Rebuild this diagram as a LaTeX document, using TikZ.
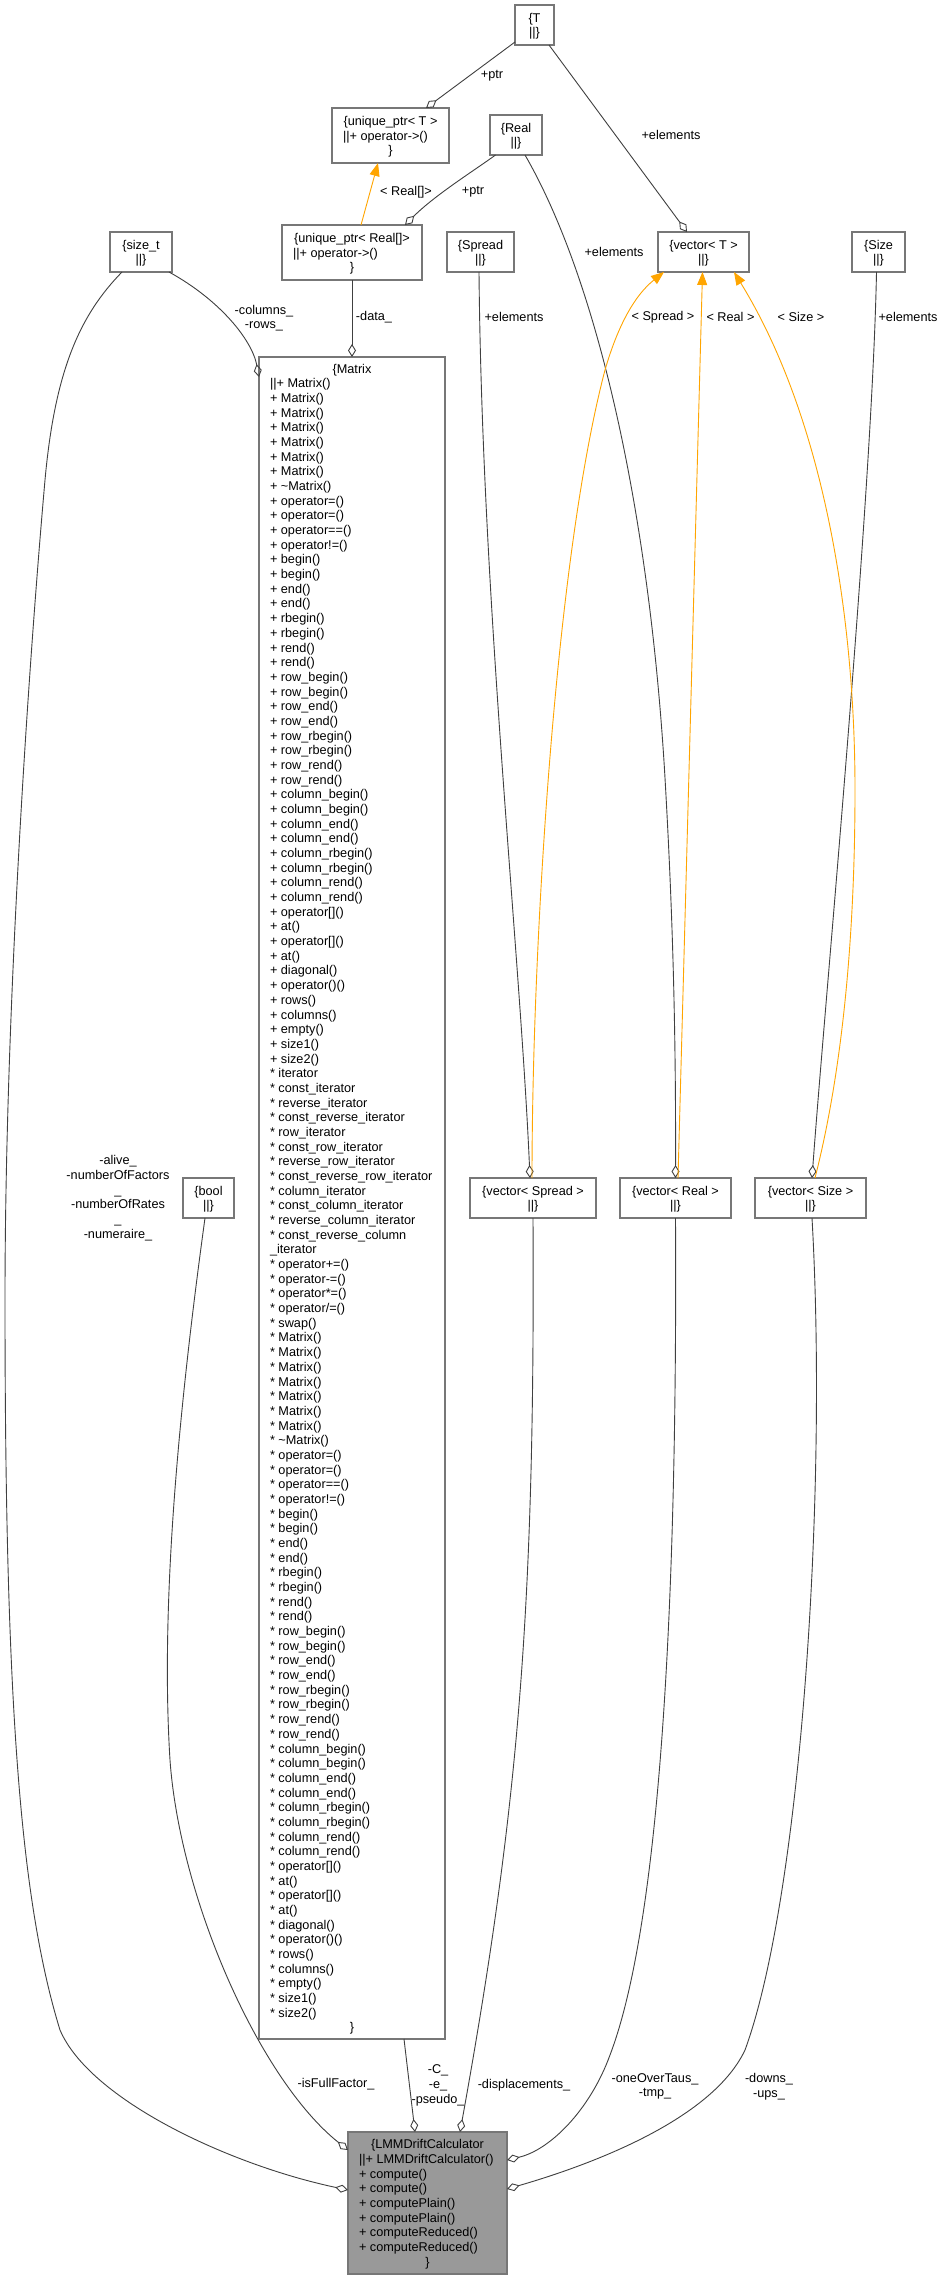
\documentclass[tikz,border=0pt]{standalone}
\usepackage{fontspec}
\setmainfont{Liberation Sans}
\usetikzlibrary{arrows.meta}
\definecolor{edgegray}{HTML}{404040}
\definecolor{boxgray}{HTML}{777777}
\definecolor{lmmfill}{HTML}{999999}
\definecolor{tmplorange}{HTML}{FFA500}
\newcommand\mystrut{\vrule height 11.84pt depth 2.84pt width 0pt}
\newcommand\RowC[1]{\hbox to\hsize{\hss\mystrut#1\hss}}
\newcommand\RowL[1]{\hbox to\hsize{\hskip11pt\mystrut#1\hss}}
\newcommand\umlnode[7][white]{\node[umlbox,fill=#1,minimum width=#5pt,minimum height=#6pt] (#2) at (#3,#4) {\vbox{\hsize=#5pt #7}};}
\newcommand\MBlock[2]{%
\RowL{#1 Matrix()}\RowL{#2 Matrix()}\RowL{#2 Matrix()}\RowL{#2 Matrix()}\RowL{#2 Matrix()}\RowL{#2 Matrix()}\RowL{#2 Matrix()}%
\RowL{#2 \textasciitilde Matrix()}\RowL{#2 operator=()}\RowL{#2 operator=()}\RowL{#2 operator==()}\RowL{#2 operator!=()}%
\RowL{#2 begin()}\RowL{#2 begin()}\RowL{#2 end()}\RowL{#2 end()}\RowL{#2 rbegin()}\RowL{#2 rbegin()}\RowL{#2 rend()}\RowL{#2 rend()}%
\RowL{#2 row\_begin()}\RowL{#2 row\_begin()}\RowL{#2 row\_end()}\RowL{#2 row\_end()}\RowL{#2 row\_rbegin()}\RowL{#2 row\_rbegin()}\RowL{#2 row\_rend()}\RowL{#2 row\_rend()}%
\RowL{#2 column\_begin()}\RowL{#2 column\_begin()}\RowL{#2 column\_end()}\RowL{#2 column\_end()}\RowL{#2 column\_rbegin()}\RowL{#2 column\_rbegin()}\RowL{#2 column\_rend()}\RowL{#2 column\_rend()}%
\RowL{#2 operator[]()}\RowL{#2 at()}\RowL{#2 operator[]()}\RowL{#2 at()}\RowL{#2 diagonal()}\RowL{#2 operator()()}\RowL{#2 rows()}\RowL{#2 columns()}\RowL{#2 empty()}\RowL{#2 size1()}\RowL{#2 size2()}}

\begin{document}
\begin{tikzpicture}[x=1pt,y=-1pt,
  every node/.style={font=\fontsize{12.7pt}{14.68pt}\selectfont},
  umlbox/.style={draw=boxgray, line width=1.1pt, inner sep=0pt, outer sep=0pt, rectangle},
  lbl/.style={inner sep=0pt, align=center},
  comp/.style={draw=edgegray, line width=0.9pt, -{Diamond[open,length=13pt,width=8pt]}},
  inst/.style={draw=tmplorange, line width=0.9pt, -{Triangle[length=13pt,width=10pt]}}]
\fill[white] (0,0) rectangle (944,2280);
\useasboundingbox (0,0) rectangle (944,2280);

% ---- boxes ----
\umlnode{T}{534.5}{25}{39}{40}{\RowC{\{T}\RowC{||\}}}
\umlnode{uptrT}{390.5}{135.5}{117}{55}{\RowC{\{unique\_ptr< T >}\RowL{||+ operator->()}\RowC{\}}}
\umlnode{Real}{516}{135}{52}{40}{\RowC{\{Real}\RowC{||\}}}
\umlnode{uptrR}{352}{252.5}{140}{55}{\RowC{\{unique\_ptr< Real[]>}\RowL{||+ operator->()}\RowC{\}}}
\umlnode{Spread}{480.5}{252}{67}{40}{\RowC{\{Spread}\RowC{||\}}}
\umlnode{vecT}{703.5}{252}{91}{40}{\RowC{\{vector< T >}\RowC{||\}}}
\umlnode{Size}{878.5}{252}{53}{40}{\RowC{\{Size}\RowC{||\}}}
\umlnode{sizet}{141}{252}{62}{40}{\RowC{\{size\_t}\RowC{||\}}}
\umlnode{Matrix}{352}{1198}{186}{1682}{\RowC{\{Matrix}\MBlock{||+}{+}%
\RowL{* iterator}\RowL{* const\_iterator}\RowL{* reverse\_iterator}\RowL{* const\_reverse\_iterator}%
\RowL{* row\_iterator}\RowL{* const\_row\_iterator}\RowL{* reverse\_row\_iterator}\RowL{* const\_reverse\_row\_iterator}%
\RowL{* column\_iterator}\RowL{* const\_column\_iterator}\RowL{* reverse\_column\_iterator}\RowL{* const\_reverse\_column}\RowL{\_iterator}%
\RowL{* operator+=()}\RowL{* operator-=()}\RowL{* operator*=()}\RowL{* operator/=()}\RowL{* swap()}%
\MBlock{*}{*}\RowC{\}}}
\umlnode{bool}{208.5}{1198}{51}{40}{\RowC{\{bool}\RowC{||\}}}
\umlnode{vecSpread}{533}{1198}{126}{40}{\RowC{\{vector< Spread >}\RowC{||\}}}
\umlnode{vecReal}{675.5}{1198}{111}{40}{\RowC{\{vector< Real >}\RowC{||\}}}
\umlnode{vecSize}{810.5}{1198}{111}{40}{\RowC{\{vector< Size >}\RowC{||\}}}
\umlnode[lmmfill]{LMM}{427.5}{2203}{159}{142}{\RowC{\{LMMDriftCalculator}\RowL{||+ LMMDriftCalculator()}\RowL{+ compute()}\RowL{+ compute()}\RowL{+ computePlain()}\RowL{+ computePlain()}\RowL{+ computeReduced()}\RowL{+ computeReduced()}\RowC{\}}}

% ---- connectors ----
\draw[comp] ([yshift=3pt]T.south west) -- ([xshift=35.5pt]uptrT.north);
\draw[comp] ([xshift=14.5pt]T.south) -- ([xshift=-16.5pt]vecT.north);
\draw[comp] ([xshift=5.5pt]Real.south west) .. controls (475,170) and (435,195) .. ([xshift=53pt]uptrR.north);
\draw[inst] ([xshift=9pt]uptrR.north) -- ([xshift=-12.5pt]uptrT.south);
\draw[comp] (uptrR.south) -- (Matrix.north);
\draw[comp] ([xshift=-3pt]sizet.south east) .. controls (220,300) and (252,340) .. ([yshift=-20pt]Matrix.north west);
\draw[comp] ([xshift=12pt]sizet.south west) .. controls (80,315) and (55,370) .. (45,480)
  .. controls (30,650) and (5,1000) .. (5,1300)
  .. controls (5,1700) and (20,1900) .. (60,2030)
  .. controls (90,2100) and (230,2165) .. ([yshift=13pt]LMM.west);
\draw[comp] ([xshift=-3.5pt]bool.south) .. controls (180,1400) and (160,1600) .. (170,1760)
  .. controls (180,1900) and (260,2080) .. ([yshift=53pt]LMM.west);
\draw[comp] ([xshift=52pt]Matrix.south) -- ([xshift=67pt]LMM.north west);
\draw[comp] ([xshift=-1.5pt]Spread.south) .. controls (482,600) and (520,950) .. ([xshift=-3pt]vecSpread.north);
\draw[comp] ([xshift=9pt]Real.south) .. controls (600,285) and (650,520) .. (665,778)
  .. controls (672,900) and (676,1020) .. (vecReal.north);
\draw[comp] ([xshift=-2pt]Size.south) .. controls (872,500) and (825,1000) .. ([xshift=1.5pt]vecSize.north);
\draw[inst] ([xshift=-1pt]vecSpread.north) .. controls (532,950) and (555,560) .. (605,370)
  .. controls (618,325) and (635,295) .. ([xshift=6pt]vecT.south west);
\draw[inst] ([xshift=2.5pt]vecReal.north) -- ([xshift=-1pt]vecT.south);
\draw[inst] ([xshift=4.5pt]vecSize.north) .. controls (840,1080) and (855,950) .. (855,790)
  .. controls (855,620) and (825,420) .. ([xshift=-15pt]vecT.south east);
\draw[comp] (vecSpread.south) .. controls (535,1600) and (520,1800) .. ([xshift=112pt]LMM.north west);
\draw[comp] (vecReal.south) .. controls (678,1700) and (650,1950) .. (610,2055)
  .. controls (590,2110) and (550,2150) .. ([yshift=43pt]LMM.east);
\draw[comp] ([xshift=1.5pt]vecSize.south) .. controls (828,1500) and (800,1900) .. (745,2050)
  .. controls (712,2120) and (590,2165) .. ([yshift=14pt]LMM.east);

% ---- labels ----
\node[lbl] (lPtrT) at (492,76) {+ptr};
\node[lbl] (lElT) at (671,135) {+elements};
\node[lbl] (lRealArr) at (406,192) {< Real[]>};
\node[lbl] (lPtrR) at (473,192) {+ptr};
\node[lbl] (lElReal) at (614,252) {+elements};
\node[lbl] (lData) at (374,317) {-data\_};
\node[lbl] (lElSpread) at (514,317) {+elements};
\node[lbl] (lSpreadT) at (663,317) {< Spread >};
\node[lbl] (lRealT) at (730.5,317) {< Real >};
\node[lbl] (lSizeT) at (801,317) {< Size >};
\node[lbl] (lElSize) at (908,317) {+elements};
\node[lbl] (lColRows) at (264,318) {-columns\_\\-rows\_};
\node[lbl] (lAlive) at (118,1198) {-alive\_\\-numberOfFactors\\\_\\-numberOfRates\\\_\\-numeraire\_};
\node[lbl] (lFull) at (336,2084) {-isFullFactor\_};
\node[lbl] (lCep) at (438,2085.5) {-C\_\\-e\_\\-pseudo\_};
\node[lbl] (lDisp) at (524,2085) {-displacements\_};
\node[lbl] (lOne) at (655,2086.5) {-oneOverTaus\_\\-tmp\_};
\node[lbl] (lDowns) at (769,2086.5) {-downs\_\\-ups\_};
\end{tikzpicture}
\end{document}
